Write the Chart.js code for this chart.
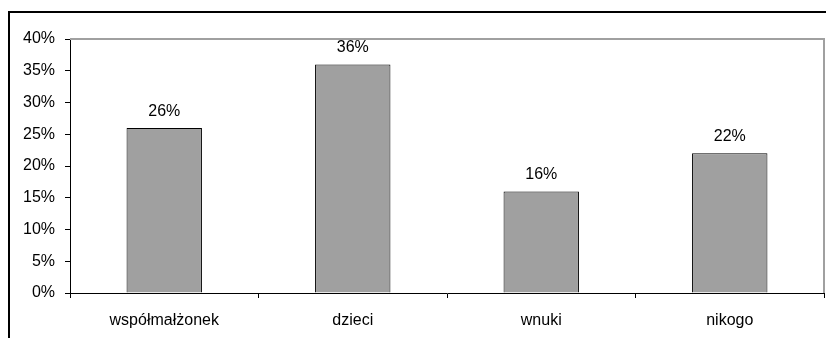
<!DOCTYPE html>
<html>
<head>
<meta charset="utf-8">
<script src="https://cdn.jsdelivr.net/npm/chart.js@4"></script>
<style>
  html, body { margin: 0; padding: 0; background: #fff; }
  #wrap { position: relative; width: 826px; height: 338px; }
</style>
</head>
<body>
<div id="wrap"><canvas id="chart" width="826" height="338"></canvas></div>
<script>
const categories = ['współmałżonek', 'dzieci', 'wnuki', 'nikogo'];
const shares = [26, 36, 16, 22];
const yTicks = [0, 5, 10, 15, 20, 25, 30, 35, 40];

const FONT = { family: '"Liberation Sans", Arial, sans-serif', size: 16 };

// outer frame and the grey plot-area edges
const framePlugin = {
  id: 'frame',
  beforeDraw(chart) {
    const ctx = chart.ctx;
    ctx.save();
    ctx.fillStyle = '#fff';
    ctx.fillRect(0, 0, chart.width, chart.height);
    ctx.strokeStyle = '#000';
    ctx.lineWidth = 2;
    ctx.beginPath();
    ctx.moveTo(9, chart.height + 2);
    ctx.lineTo(9, 12);
    ctx.lineTo(chart.width + 2, 12);
    ctx.stroke();
    ctx.restore();
  },
  beforeDatasetsDraw(chart) {
    const { ctx, chartArea: a } = chart;
    ctx.save();
    ctx.strokeStyle = '#a0a0a0';
    ctx.lineWidth = 2;
    ctx.beginPath();
    ctx.moveTo(a.left, a.top);
    ctx.lineTo(a.right, a.top);
    ctx.lineTo(a.right, a.bottom);
    ctx.stroke();
    ctx.restore();
  }
};

// value labels above the bars
const valueLabels = {
  id: 'valueLabels',
  afterDatasetsDraw(chart) {
    const ctx = chart.ctx;
    const meta = chart.getDatasetMeta(0);
    ctx.save();
    ctx.font = FONT.size + 'px ' + FONT.family;
    ctx.fillStyle = '#000';
    ctx.textAlign = 'center';
    ctx.textBaseline = 'alphabetic';
    meta.data.forEach((bar, i) => {
      ctx.fillText(shares[i] + '%', bar.x, bar.y - 12);
    });
    ctx.restore();
  }
};

new Chart(document.getElementById('chart'), {
  type: 'bar',
  data: {
    labels: categories,
    datasets: [{
      data: shares,
      backgroundColor: '#a0a0a0',
      borderColor: '#000',
      borderWidth: 1,
      barPercentage: 0.4,
      categoryPercentage: 1.0
    }]
  },
  options: {
    responsive: false,
    animation: false,
    devicePixelRatio: 1,
    layout: { padding: { left: 0, top: 39, right: 2, bottom: 0 } },
    plugins: { legend: { display: false }, tooltip: { enabled: false } },
    scales: {
      x: {
        grid: { offset: true, drawOnChartArea: false, drawTicks: true, tickLength: 5, color: '#000' },
        border: { color: '#000', width: 1 },
        ticks: { color: '#000', font: FONT, padding: 13, maxRotation: 0 },
        afterFit(scale) { scale.height = 45; }
      },
      y: {
        min: 0,
        max: 40,
        afterBuildTicks(scale) { scale.ticks = yTicks.map(v => ({ value: v })); },
        grid: { drawOnChartArea: false, drawTicks: true, tickLength: 5, color: '#000' },
        border: { color: '#000', width: 1 },
        ticks: { color: '#000', font: FONT, padding: 10, callback: v => v + '%' },
        afterFit(scale) { scale.width = 70; }
      }
    }
  },
  plugins: [framePlugin, valueLabels]
});
</script>
</body>
</html>
